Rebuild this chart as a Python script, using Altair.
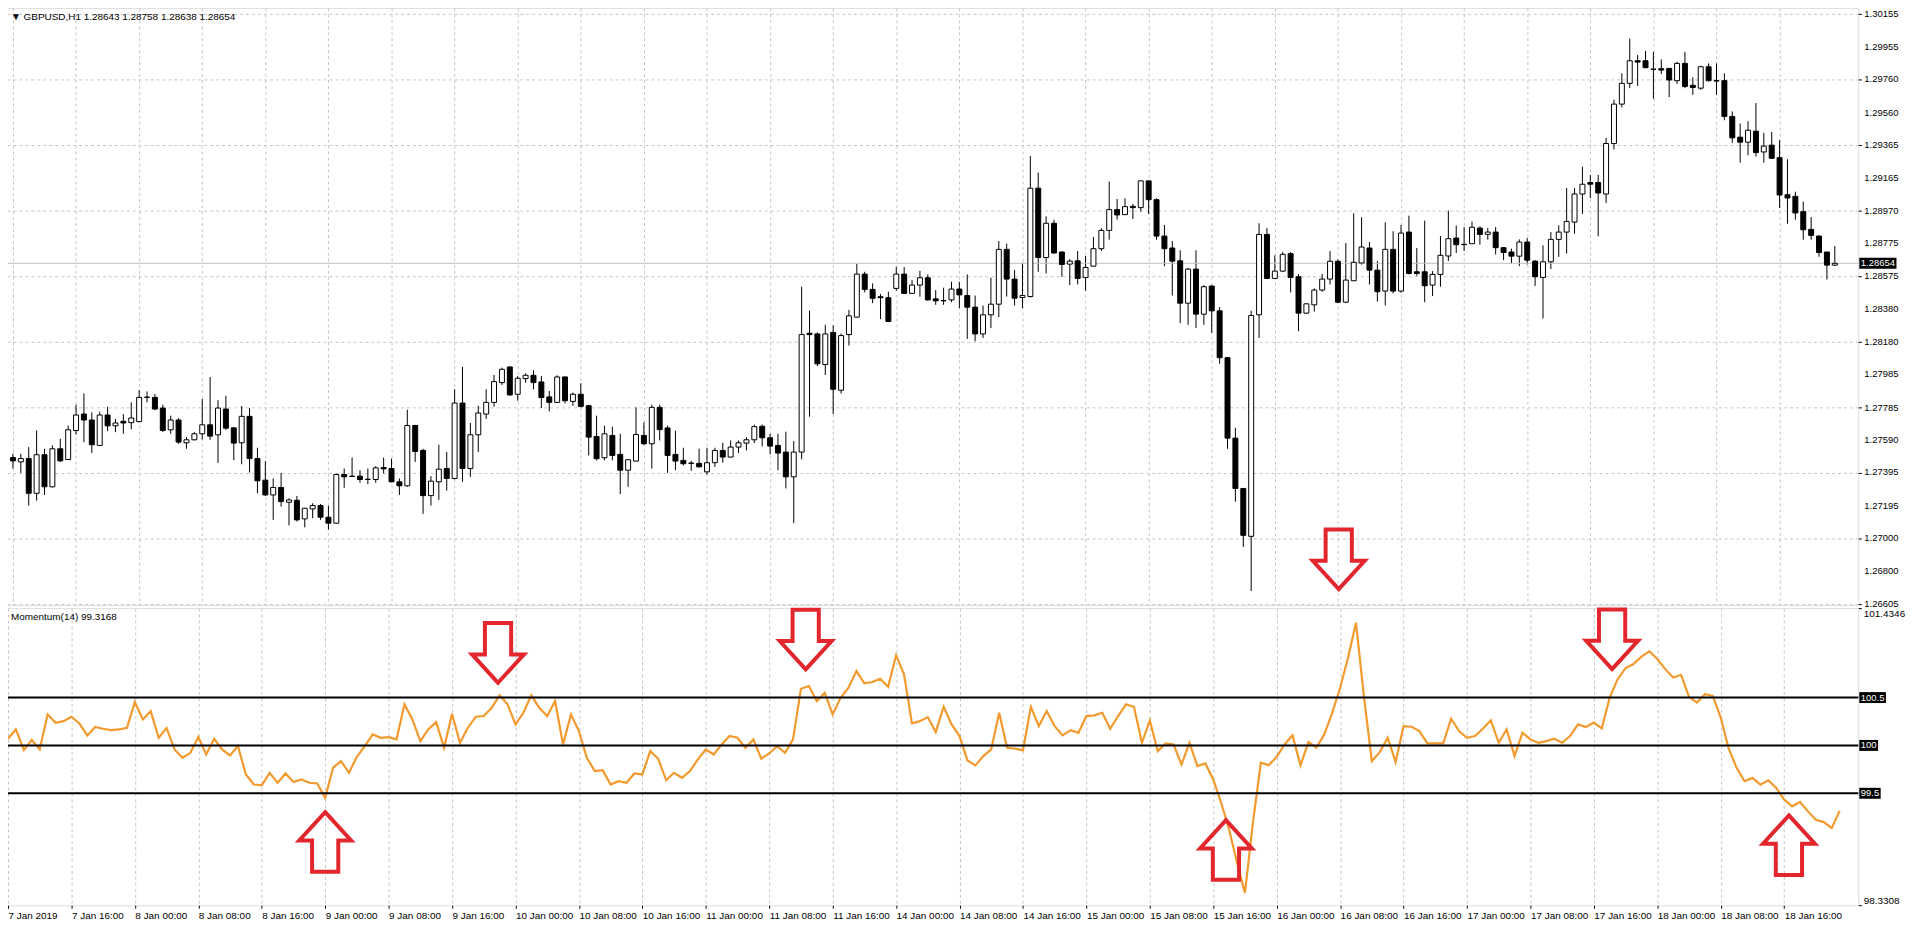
import json
import altair as alt
import pandas as pd

# ---------------- data ----------------
bar_index = list(range(232))

open_ = [
    1.27485, 1.27459, 1.27479, 1.27270, 1.27502, 1.27309, 1.27538, 1.27473, 1.27648, 1.27747,
    1.27711, 1.27558, 1.27741, 1.27676, 1.27703, 1.27695, 1.27701, 1.27847, 1.27847, 1.27783,
    1.27652, 1.27711, 1.27574, 1.27592, 1.27628, 1.27682, 1.27622, 1.27777, 1.27664, 1.27574,
    1.27733, 1.27479, 1.27349, 1.27260, 1.27305, 1.27216, 1.27228, 1.27116, 1.27176, 1.27196,
    1.27126, 1.27090, 1.27383, 1.27371, 1.27373, 1.27353, 1.27353, 1.27425, 1.27419, 1.27339,
    1.27315, 1.27678, 1.27528, 1.27256, 1.27339, 1.27419, 1.27359, 1.27813, 1.27419, 1.27622,
    1.27747, 1.27817, 1.27936, 1.28030, 1.27866, 1.27960, 1.27980, 1.27940, 1.27850, 1.27817,
    1.27970, 1.27823, 1.27866, 1.27797, 1.27612, 1.27484, 1.27618, 1.27504, 1.27409, 1.27464,
    1.27618, 1.27568, 1.27787, 1.27663, 1.27504, 1.27468, 1.27450, 1.27450, 1.27399, 1.27454,
    1.27528, 1.27488, 1.27548, 1.27572, 1.27592, 1.27673, 1.27604, 1.27558, 1.27518, 1.27369,
    1.27518, 1.28233, 1.28229, 1.28045, 1.28238, 1.27890, 1.28225, 1.28330, 1.28589, 1.28497,
    1.28453, 1.28447, 1.28503, 1.28589, 1.28473, 1.28523, 1.28567, 1.28440, 1.28428, 1.28434,
    1.28499, 1.28460, 1.28390, 1.28229, 1.28344, 1.28408, 1.28738, 1.28559, 1.28448, 1.28454,
    1.29106, 1.28689, 1.28895, 1.28722, 1.28649, 1.28669, 1.28569, 1.28637, 1.28742, 1.28852,
    1.28977, 1.28947, 1.28997, 1.28989, 1.29150, 1.29037, 1.28818, 1.28746, 1.28669, 1.28414,
    1.28619, 1.28348, 1.28517, 1.28368, 1.28086, 1.27602, 1.27299, 1.27011, 1.28344, 1.28828,
    1.28563, 1.28607, 1.28712, 1.28573, 1.28354, 1.28404, 1.28493, 1.28559, 1.28666, 1.28420,
    1.28549, 1.28656, 1.28746, 1.28613, 1.28487, 1.28738, 1.28487, 1.28842, 1.28603, 1.28603,
    1.28523, 1.28587, 1.28698, 1.28806, 1.28766, 1.28772, 1.28866, 1.28828, 1.28842, 1.28748,
    1.28722, 1.28697, 1.28782, 1.28667, 1.28569, 1.28663, 1.28798, 1.28842, 1.28902, 1.29071,
    1.29140, 1.29140, 1.29071, 1.29375, 1.29612, 1.29737, 1.29873, 1.29873, 1.29823, 1.29825,
    1.29827, 1.29753, 1.29857, 1.29725, 1.29708, 1.29837, 1.29753, 1.29753, 1.29538, 1.29413,
    1.29383, 1.29449, 1.29324, 1.29365, 1.29290, 1.29067, 1.29057, 1.28965, 1.28858, 1.28818,
    1.28722, 1.28643,
]

high = [
    1.27508, 1.27508, 1.27548, 1.27648, 1.27538, 1.27558, 1.27598, 1.27678, 1.27803, 1.27871,
    1.27757, 1.27761, 1.27791, 1.27717, 1.27747, 1.27817, 1.27891, 1.27883, 1.27867, 1.27803,
    1.27737, 1.27723, 1.27608, 1.27638, 1.27837, 1.27970, 1.27831, 1.27857, 1.27664, 1.27795,
    1.27783, 1.27544, 1.27463, 1.27359, 1.27393, 1.27240, 1.27254, 1.27182, 1.27210, 1.27206,
    1.27194, 1.27389, 1.27419, 1.27485, 1.27409, 1.27419, 1.27433, 1.27485, 1.27479, 1.27359,
    1.27773, 1.27682, 1.27538, 1.27373, 1.27562, 1.27518, 1.27896, 1.28030, 1.27693, 1.27797,
    1.27896, 1.27982, 1.28026, 1.28035, 1.27976, 1.27992, 1.28012, 1.27976, 1.27886, 1.27980,
    1.27972, 1.27876, 1.27932, 1.27803, 1.27737, 1.27677, 1.27671, 1.27628, 1.27474, 1.27787,
    1.27697, 1.27803, 1.27803, 1.27677, 1.27647, 1.27544, 1.27464, 1.27538, 1.27544, 1.27544,
    1.27574, 1.27588, 1.27588, 1.27608, 1.27683, 1.27683, 1.27628, 1.27628, 1.27641, 1.27584,
    1.28513, 1.28370, 1.28238, 1.28284, 1.28280, 1.28231, 1.28374, 1.28652, 1.28603, 1.28533,
    1.28469, 1.28483, 1.28632, 1.28632, 1.28553, 1.28609, 1.28587, 1.28493, 1.28507, 1.28543,
    1.28543, 1.28587, 1.28460, 1.28400, 1.28567, 1.28788, 1.28772, 1.28613, 1.28657, 1.29299,
    1.29200, 1.28937, 1.28917, 1.28724, 1.28679, 1.28728, 1.28698, 1.28812, 1.28866, 1.29146,
    1.29041, 1.29045, 1.29011, 1.29152, 1.29152, 1.29045, 1.28885, 1.28788, 1.28732, 1.28627,
    1.28732, 1.28523, 1.28523, 1.28390, 1.28090, 1.27664, 1.27301, 1.28368, 1.28895, 1.28866,
    1.28702, 1.28722, 1.28722, 1.28589, 1.28414, 1.28503, 1.28589, 1.28728, 1.28678, 1.28776,
    1.28955, 1.28931, 1.28782, 1.28668, 1.28901, 1.28847, 1.28885, 1.28941, 1.28746, 1.28911,
    1.28607, 1.28818, 1.28971, 1.28881, 1.28871, 1.28905, 1.28876, 1.28866, 1.28872, 1.28752,
    1.28742, 1.28798, 1.28806, 1.28673, 1.28762, 1.28842, 1.28882, 1.29107, 1.29107, 1.29236,
    1.29186, 1.29186, 1.29409, 1.29638, 1.29797, 1.30006, 1.29907, 1.29932, 1.29926, 1.29881,
    1.29829, 1.29867, 1.29926, 1.29773, 1.29843, 1.29857, 1.29857, 1.29797, 1.29568, 1.29495,
    1.29509, 1.29618, 1.29439, 1.29445, 1.29395, 1.29280, 1.29085, 1.29025, 1.28932, 1.28822,
    1.28722, 1.28758,
]

low = [
    1.27419, 1.27393, 1.27196, 1.27226, 1.27260, 1.27305, 1.27459, 1.27470, 1.27624, 1.27578,
    1.27512, 1.27554, 1.27644, 1.27638, 1.27628, 1.27654, 1.27698, 1.27817, 1.27771, 1.27638,
    1.27628, 1.27568, 1.27538, 1.27588, 1.27594, 1.27592, 1.27453, 1.27652, 1.27469, 1.27445,
    1.27395, 1.27270, 1.27254, 1.27110, 1.27190, 1.27077, 1.27100, 1.27065, 1.27120, 1.27110,
    1.27051, 1.27088, 1.27303, 1.27369, 1.27333, 1.27325, 1.27333, 1.27389, 1.27337, 1.27260,
    1.27309, 1.27459, 1.27146, 1.27196, 1.27230, 1.27286, 1.27353, 1.27339, 1.27369, 1.27518,
    1.27717, 1.27791, 1.27922, 1.27856, 1.27827, 1.27936, 1.27896, 1.27783, 1.27763, 1.27815,
    1.27811, 1.27797, 1.27787, 1.27498, 1.27468, 1.27468, 1.27468, 1.27265, 1.27309, 1.27462,
    1.27562, 1.27419, 1.27588, 1.27393, 1.27409, 1.27438, 1.27405, 1.27427, 1.27383, 1.27429,
    1.27454, 1.27486, 1.27512, 1.27528, 1.27572, 1.27552, 1.27504, 1.27409, 1.27299, 1.27090,
    1.27474, 1.27731, 1.28035, 1.27982, 1.27747, 1.27870, 1.28159, 1.28328, 1.28479, 1.28414,
    1.28318, 1.28300, 1.28489, 1.28469, 1.28471, 1.28453, 1.28428, 1.28404, 1.28404, 1.28420,
    1.28384, 1.28199, 1.28185, 1.28205, 1.28265, 1.28330, 1.28454, 1.28400, 1.28384, 1.28448,
    1.28603, 1.28593, 1.28712, 1.28573, 1.28523, 1.28527, 1.28489, 1.28635, 1.28728, 1.28796,
    1.28917, 1.28945, 1.28921, 1.28965, 1.28951, 1.28796, 1.28637, 1.28460, 1.28294, 1.28284,
    1.28265, 1.28284, 1.28235, 1.28050, 1.27538, 1.27220, 1.26947, 1.26682, 1.28205, 1.28559,
    1.28559, 1.28603, 1.28479, 1.28245, 1.28350, 1.28364, 1.28483, 1.28527, 1.28414, 1.28414,
    1.28547, 1.28646, 1.28527, 1.28424, 1.28400, 1.28473, 1.28477, 1.28587, 1.28579, 1.28420,
    1.28457, 1.28513, 1.28668, 1.28716, 1.28728, 1.28770, 1.28766, 1.28796, 1.28707, 1.28673,
    1.28653, 1.28637, 1.28647, 1.28518, 1.28322, 1.28619, 1.28693, 1.28713, 1.28832, 1.28951,
    1.29047, 1.28816, 1.29017, 1.29339, 1.29592, 1.29708, 1.29721, 1.29829, 1.29644, 1.29793,
    1.29654, 1.29733, 1.29708, 1.29668, 1.29698, 1.29747, 1.29668, 1.29515, 1.29379, 1.29260,
    1.29304, 1.29296, 1.29260, 1.29284, 1.28987, 1.28892, 1.28916, 1.28796, 1.28796, 1.28693,
    1.28557, 1.28638,
]

close = [
    1.27465, 1.27479, 1.27270, 1.27502, 1.27309, 1.27538, 1.27465, 1.27652, 1.27741, 1.27711,
    1.27562, 1.27741, 1.27676, 1.27693, 1.27693, 1.27723, 1.27847, 1.27849, 1.27777, 1.27648,
    1.27711, 1.27578, 1.27592, 1.27628, 1.27682, 1.27614, 1.27783, 1.27662, 1.27572, 1.27733,
    1.27479, 1.27345, 1.27260, 1.27305, 1.27220, 1.27230, 1.27110, 1.27180, 1.27196, 1.27126,
    1.27090, 1.27383, 1.27369, 1.27373, 1.27353, 1.27355, 1.27423, 1.27417, 1.27339, 1.27315,
    1.27678, 1.27522, 1.27256, 1.27343, 1.27415, 1.27359, 1.27813, 1.27419, 1.27622, 1.27753,
    1.27817, 1.27942, 1.28016, 1.27862, 1.27962, 1.27980, 1.27936, 1.27846, 1.27817, 1.27970,
    1.27827, 1.27866, 1.27793, 1.27608, 1.27478, 1.27628, 1.27498, 1.27409, 1.27472, 1.27624,
    1.27568, 1.27787, 1.27653, 1.27498, 1.27464, 1.27448, 1.27452, 1.27429, 1.27454, 1.27528,
    1.27488, 1.27548, 1.27574, 1.27592, 1.27671, 1.27604, 1.27554, 1.27512, 1.27369, 1.27518,
    1.28225, 1.28225, 1.28049, 1.28229, 1.27896, 1.28219, 1.28338, 1.28589, 1.28497, 1.28443,
    1.28447, 1.28304, 1.28589, 1.28473, 1.28523, 1.28567, 1.28434, 1.28428, 1.28430, 1.28499,
    1.28464, 1.28390, 1.28229, 1.28344, 1.28408, 1.28738, 1.28559, 1.28444, 1.28460, 1.29106,
    1.28689, 1.28895, 1.28716, 1.28647, 1.28667, 1.28563, 1.28629, 1.28742, 1.28852, 1.28977,
    1.28945, 1.28995, 1.28989, 1.29150, 1.29037, 1.28818, 1.28742, 1.28667, 1.28414, 1.28619,
    1.28348, 1.28513, 1.28368, 1.28086, 1.27602, 1.27299, 1.27017, 1.28340, 1.28828, 1.28563,
    1.28607, 1.28708, 1.28569, 1.28354, 1.28410, 1.28493, 1.28559, 1.28666, 1.28420, 1.28553,
    1.28660, 1.28752, 1.28613, 1.28483, 1.28738, 1.28487, 1.28836, 1.28593, 1.28593, 1.28519,
    1.28587, 1.28702, 1.28802, 1.28766, 1.28768, 1.28871, 1.28828, 1.28842, 1.28748, 1.28719,
    1.28697, 1.28782, 1.28673, 1.28573, 1.28663, 1.28798, 1.28842, 1.28906, 1.29071, 1.29130,
    1.29130, 1.29077, 1.29375, 1.29612, 1.29737, 1.29873, 1.29865, 1.29831, 1.29821, 1.29817,
    1.29757, 1.29857, 1.29718, 1.29712, 1.29837, 1.29753, 1.29751, 1.29538, 1.29409, 1.29383,
    1.29455, 1.29320, 1.29359, 1.29286, 1.29065, 1.29047, 1.28957, 1.28856, 1.28822, 1.28719,
    1.28643, 1.28654,
]

momentum = [
    100.070, 100.167, 99.951, 100.056, 99.958, 100.324, 100.237, 100.254, 100.300, 100.230,
    100.105, 100.192, 100.174, 100.160, 100.167, 100.185, 100.453, 100.272, 100.359, 100.080,
    100.181, 99.958, 99.871, 99.923, 100.087, 99.906, 100.070, 99.958, 99.895, 99.993,
    99.697, 99.592, 99.582, 99.714, 99.610, 99.707, 99.617, 99.645, 99.610, 99.603,
    99.453, 99.767, 99.836, 99.714, 99.882, 99.993, 100.115, 100.080, 100.087, 100.063,
    100.429, 100.272, 100.045, 100.167, 100.244, 99.976, 100.331, 100.028, 100.185, 100.300,
    100.307, 100.394, 100.523, 100.429, 100.220, 100.341, 100.523, 100.394, 100.307, 100.463,
    100.010, 100.324, 100.150, 99.871, 99.732, 99.742, 99.592, 99.627, 99.610, 99.707,
    99.697, 99.941, 99.861, 99.638, 99.714, 99.662, 99.732, 99.854, 99.958, 99.906,
    100.010, 100.098, 100.080, 99.976, 100.063, 99.861, 99.916, 99.993, 99.923, 100.063,
    100.592, 100.620, 100.463, 100.551, 100.324, 100.498, 100.603, 100.777, 100.648, 100.662,
    100.697, 100.613, 100.941, 100.742, 100.230, 100.254, 100.296, 100.139, 100.404, 100.220,
    100.098, 99.843, 99.791, 99.889, 99.958, 100.341, 99.976, 99.965, 99.948, 100.404,
    100.202, 100.359, 100.202, 100.105, 100.160, 100.132, 100.307, 100.314, 100.341, 100.174,
    100.307, 100.429, 100.404, 100.028, 100.261, 99.941, 100.021, 100.010, 99.801, 100.028,
    99.784, 99.812, 99.645, 99.401, 99.122, 98.774, 98.460, 99.192, 99.819, 99.794,
    99.882, 100.010, 100.105, 99.791, 100.035, 99.976, 100.115, 100.341, 100.603, 100.916,
    101.282, 100.516, 99.836, 99.930, 100.080, 99.826, 100.202, 100.195, 100.150, 100.021,
    100.021, 100.021, 100.279, 100.150, 100.080, 100.098, 100.175, 100.262, 100.028, 100.168,
    99.888, 100.133, 100.063, 100.028, 100.045, 100.070, 100.028, 100.098, 100.220, 100.192,
    100.238, 100.178, 100.500, 100.692, 100.808, 100.850, 100.927, 100.983, 100.902, 100.797,
    100.710, 100.738, 100.507, 100.448, 100.535, 100.517, 100.290, 99.969, 99.766, 99.626,
    99.661, 99.591, 99.636, 99.556, 99.434, 99.364, 99.409, 99.311, 99.224, 99.199,
    99.136, 99.3168,
]

time_labels = [
    "7 Jan 2019", "7 Jan 16:00", "8 Jan 00:00", "8 Jan 08:00", "8 Jan 16:00",
    "9 Jan 00:00", "9 Jan 08:00", "9 Jan 16:00", "10 Jan 00:00", "10 Jan 08:00",
    "10 Jan 16:00", "11 Jan 00:00", "11 Jan 08:00", "11 Jan 16:00", "14 Jan 00:00",
    "14 Jan 08:00", "14 Jan 16:00", "15 Jan 00:00", "15 Jan 08:00", "15 Jan 16:00",
    "16 Jan 00:00", "16 Jan 08:00", "16 Jan 16:00", "17 Jan 00:00", "17 Jan 08:00",
    "17 Jan 16:00", "18 Jan 00:00", "18 Jan 08:00", "18 Jan 16:00",
]

price_ticks = [1.30155, 1.29955, 1.29760, 1.29560, 1.29365, 1.29165, 1.28970, 1.28775,
               1.28575, 1.28380, 1.28180, 1.27985, 1.27785, 1.27590, 1.27395, 1.27195,
               1.27000, 1.26800, 1.26605]
price_tick_labels = ["1.30155", "1.29955", "1.29760", "1.29560", "1.29365", "1.29165",
                     "1.28970", "1.28775", "1.28575", "1.28380", "1.28180", "1.27985",
                     "1.27785", "1.27590", "1.27395", "1.27195", "1.27000", "1.26800",
                     "1.26605"]
price_range = [1.26597, 1.30191]

mom_range = [98.3308, 101.4346]
levels = [100.5, 100.0, 99.5]
level_labels = ["100.5", "100", "99.5"]

last_price = [1.28654]
last_price_label = ["1.28654"]
main_title = ["\u25bc GBPUSD,H1  1.28643 1.28758 1.28638 1.28654"]
mom_title = ["Momentum(14) 99.3168"]

# annotation arrows (bar position, tip value)
up_arrow_bar = [40, 153.6, 224.6]
up_arrow_tip = [99.303, 99.220, 99.269]
down_arrow_bar = [61.8, 100.6, 202.3]
down_arrow_tip = [100.655, 100.794, 100.797]
price_arrow_bar = [168.1]
price_arrow_tip = [1.26693]

# ---------------- chart ----------------
W, H1, H2 = 1864, 601, 299
FONT = "Liberation Sans"
FS = 9.5
RED = "#e3262d"
ORANGE = "#f29a2e"
GRID = dict(grid=True, gridColor="#c6c6c6", gridDash=[3, 3], gridWidth=1)

xs = alt.Scale(domain=[-0.25, 233.35], nice=False, zero=False)
ys_price = alt.Scale(domain=price_range, nice=False, zero=False)
ys_mom = alt.Scale(domain=mom_range, nice=False, zero=False)

grid_bars = list(range(0, 232, 4))
label_expr = ("datum.value % 8 == 0 ? " + json.dumps(time_labels) +
              "[datum.value / 8] : ''")

UP = "M0,0L0.87,0.95L0.44,0.95L0.44,2L-0.44,2L-0.44,0.95L-0.87,0.95Z"
DOWN = "M0,0L0.87,-0.95L0.44,-0.95L0.44,-2L-0.44,-2L-0.44,-0.95L-0.87,-0.95Z"


def box_shape(text, h=11):
    w = sum(2.6 if ch == "." else 5.3 for ch in text) + 3
    return f"M0,{-h/20}L{w/10},{-h/20}L{w/10},{h/20}L0,{h/20}Z"


def tag(df, field, text_field, scale, text):
    box = alt.Chart(df).mark_point(
        shape=box_shape(text), size=400, filled=True, color="black",
        opacity=1, strokeWidth=0
    ).encode(x=alt.value(W + 1), y=alt.Y(f"{field}:Q", scale=scale))
    lab = alt.Chart(df).mark_text(
        align="left", baseline="middle", color="white", font=FONT, fontSize=FS
    ).encode(x=alt.value(W + 2.5), y=alt.Y(f"{field}:Q", scale=scale),
             text=f"{text_field}:N")
    return [box, lab]


def arrows(bars, tips, shape, scale, yfield):
    df = pd.DataFrame({"bar": bars, yfield: tips})
    return alt.Chart(df).mark_point(
        shape=shape, size=3600, filled=False, color=RED, strokeWidth=4,
        opacity=1, strokeJoin="miter"
    ).encode(x=alt.X("bar:Q", scale=xs), y=alt.Y(f"{yfield}:Q", scale=scale))


def panel_title(text):
    return alt.Chart(pd.DataFrame({"t": text})).mark_text(
        align="left", baseline="middle", font=FONT, fontSize=10, color="black"
    ).encode(x=alt.value(5), y=alt.value(9), text="t:N")


candles = pd.DataFrame({"bar": bar_index, "open": open_, "high": high,
                        "low": low, "close": close})

x_main = alt.X("bar:Q", scale=xs, axis=alt.Axis(
    values=grid_bars, labels=False, ticks=False, domain=False, title=None, **GRID))
price_axis = alt.Axis(orient="right", values=price_ticks, labels=False, title=None,
                      domain=False, tickSize=3, tickColor="black", **GRID)

wicks = alt.Chart(candles).mark_rule(color="black", strokeWidth=1).encode(
    x=x_main, y=alt.Y("low:Q", scale=ys_price, axis=price_axis), y2="high:Q")
bodies = alt.Chart(candles).mark_bar(size=5, stroke="black", strokeWidth=1).encode(
    x=alt.X("bar:Q", scale=xs),
    y=alt.Y("open:Q", scale=ys_price),
    y2="close:Q",
    fill=alt.condition("datum.close >= datum.open", alt.value("white"), alt.value("black")),
)
bid = pd.DataFrame({"price": last_price, "label": last_price_label})
bid_line = alt.Chart(bid).mark_rule(color="#c0c0c0", strokeWidth=1).encode(
    y=alt.Y("price:Q", scale=ys_price))

ticks_df = pd.DataFrame({"price": price_ticks, "label": price_tick_labels})
price_labels = alt.Chart(ticks_df).mark_text(
    align="left", baseline="middle", font=FONT, fontSize=FS, color="black"
).encode(x=alt.value(W + 6), y=alt.Y("price:Q", scale=ys_price), text="label:N")

main = alt.layer(
    wicks, bid_line, bodies, price_labels,
    *tag(bid, "price", "label", ys_price, last_price_label[0]),
    arrows(price_arrow_bar, price_arrow_tip, DOWN, ys_price, "price"),
    panel_title(main_title),
).properties(width=W, height=H1)

mom = pd.DataFrame({"bar": bar_index, "momentum": momentum})
x_mom_axis = alt.Axis(values=grid_bars, labelExpr=label_expr, title=None, domain=False,
                      tickSize=3, tickColor="black", labelAlign="left", labelPadding=2,
                      labelFlush=False, labelOverlap=False, labelBound=False, **GRID)
y_mom_axis = alt.Axis(orient="right", values=mom_range, format=".4f", title=None,
                      domain=False, tickSize=3, tickColor="black", labelFlush=True,
                      labelOverlap=False, labelPadding=2, grid=False)

lvl = pd.DataFrame({"level": levels, "label": level_labels})
mom_line = alt.Chart(mom).mark_line(color=ORANGE, strokeWidth=2.2).encode(
    x=alt.X("bar:Q", scale=xs, axis=x_mom_axis),
    y=alt.Y("momentum:Q", scale=ys_mom, axis=y_mom_axis))
level_rules = alt.Chart(lvl).mark_rule(color="black", strokeWidth=2).encode(
    y=alt.Y("level:Q", scale=ys_mom))

level_tags = []
for v, t in zip(levels, level_labels):
    level_tags += tag(pd.DataFrame({"level": [v], "label": [t]}), "level", "label", ys_mom, t)

mom_chart = alt.layer(
    mom_line, level_rules, *level_tags,
    arrows(up_arrow_bar, up_arrow_tip, UP, ys_mom, "m"),
    arrows(down_arrow_bar, down_arrow_tip, DOWN, ys_mom, "m"),
    panel_title(mom_title),
).properties(width=W, height=H2)

chart = alt.vconcat(main, mom_chart, spacing=3, bounds="flush").properties(
    padding={"left": -5, "top": -4, "right": 0, "bottom": 0}
).configure_view(stroke="black", strokeWidth=1).configure_axis(
    labelFont=FONT, labelFontSize=FS, labelColor="black"
).configure(background="white")

chart.save("out.html", embed_options={"renderer": "svg", "actions": False})
